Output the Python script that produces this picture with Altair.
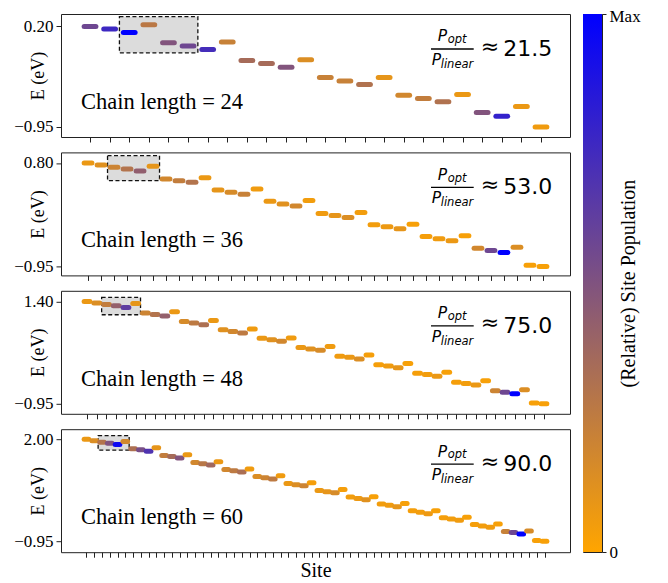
import altair as alt
import pandas as pd

# ---------------- data ----------------
CHAIN_LENGTHS = [24, 36, 48, 60]
RATIOS = ["21.5", "53.0", "75.0", "90.0"]
Y_TOP_TICKS = [0.20, 0.80, 1.40, 2.00]
Y_BOTTOM_TICK = -0.95
Y_DOMAINS = [[-1.065, 0.342], [-1.102, 0.979], [-1.179, 1.645], [-1.267, 2.288]]
BOX_X = [2.5, 6.5]
BOX_Y = [[-0.102, 0.311], [0.501, 0.923], [1.095, 1.492], [1.683, 2.104]]

E_24 = [0.200, 0.170, 0.131, 0.219, 0.013, -0.025, -0.064, 0.021, -0.190, -0.224,
        -0.266, -0.182, -0.385, -0.423, -0.465, -0.385, -0.587, -0.626, -0.663, -0.580,
        -0.786, -0.827, -0.717, -0.950]
POP_24 = [0.57, 0.76, 1.0, 0.27, 0.49, 0.57, 0.73, 0.22, 0.35, 0.35,
          0.49, 0.14, 0.22, 0.22, 0.31, 0.10, 0.18, 0.24, 0.31, 0.08,
          0.49, 0.80, 0.08, 0.06]

E_36 = [0.80, 0.766, 0.726, 0.699, 0.665, 0.743, 0.53, 0.50, 0.473, 0.552,
        0.344, 0.304, 0.27, 0.361, 0.152, 0.108, 0.074, 0.164, -0.056, -0.09,
        -0.123, -0.039, -0.246, -0.28, -0.314, -0.236, -0.444, -0.483, -0.516, -0.432,
        -0.641, -0.68, -0.714, -0.624, -0.93, -0.95]
POP_36 = [0.08, 0.12, 0.20, 0.30, 0.43, 0.10, 0.18, 0.24, 0.30, 0.08,
          0.10, 0.16, 0.22, 0.06, 0.08, 0.12, 0.18, 0.05, 0.06, 0.10,
          0.14, 0.05, 0.05, 0.07, 0.10, 0.03, 0.04, 0.06, 0.08, 0.03,
          0.18, 0.57, 1.0, 0.14, 0.03, 0.03]

E_48 = [1.40, 1.363, 1.331, 1.30, 1.263, 1.354, 1.134, 1.102, 1.065, 1.164,
        0.942, 0.905, 0.866, 0.965, 0.752, 0.713, 0.676, 0.768, 0.553, 0.523,
        0.484, 0.562, 0.346, 0.31, 0.278, 0.369, 0.14, 0.117, 0.08, 0.172,
        -0.05, -0.08, -0.119, -0.027, -0.249, -0.279, -0.318, -0.226, -0.455, -0.485,
        -0.515, -0.423, -0.652, -0.684, -0.72, -0.629, -0.93, -0.95]
POP_48 = [0.08, 0.14, 0.24, 0.42, 0.63, 0.10, 0.20, 0.30, 0.42, 0.08,
          0.16, 0.26, 0.32, 0.08, 0.12, 0.18, 0.26, 0.06, 0.08, 0.12,
          0.18, 0.06, 0.08, 0.12, 0.16, 0.06, 0.06, 0.08, 0.14, 0.04,
          0.04, 0.06, 0.10, 0.03, 0.04, 0.05, 0.08, 0.03, 0.04, 0.05,
          0.08, 0.03, 0.20, 0.57, 1.0, 0.14, 0.03, 0.03]

E_60 = [2.00, 1.951, 1.914, 1.885, 1.845, 1.931, 1.72, 1.692, 1.654, 1.749,
        1.527, 1.499, 1.452, 1.548, 1.326, 1.288, 1.251, 1.346, 1.124, 1.086,
        1.049, 1.135, 0.922, 0.885, 0.847, 0.942, 0.72, 0.683, 0.654, 0.741,
        0.519, 0.481, 0.452, 0.548, 0.329, 0.288, 0.251, 0.337, 0.127, 0.087,
        0.049, 0.144, -0.066, -0.115, -0.153, -0.066, -0.268, -0.305, -0.346, -0.259,
        -0.47, -0.507, -0.548, -0.45, -0.671, -0.70, -0.738, -0.651, -0.93, -0.95]
POP_60 = [0.08, 0.14, 0.30, 0.50, 0.95, 0.18, 0.32, 0.53, 0.69, 0.10,
          0.24, 0.35, 0.49, 0.08, 0.18, 0.28, 0.37, 0.08, 0.18, 0.26,
          0.33, 0.06, 0.14, 0.20, 0.26, 0.06, 0.08, 0.14, 0.20, 0.04,
          0.08, 0.10, 0.16, 0.04, 0.05, 0.07, 0.12, 0.03, 0.05, 0.06,
          0.10, 0.03, 0.04, 0.05, 0.07, 0.03, 0.04, 0.05, 0.06, 0.03,
          0.04, 0.05, 0.06, 0.03, 0.22, 0.57, 1.0, 0.16, 0.03, 0.03]

ENERGIES = [E_24, E_36, E_48, E_60]
POPS = [POP_24, POP_36, POP_48, POP_60]

# ---------------- styling ----------------
W, H = 509, 123
SERIF = "Liberation Serif, Times New Roman, Times, serif"
SANS = "DejaVu Sans"
ORANGE, BLUE = "#ffa500", "#0000ff"
color_scale = alt.Scale(domain=[0, 1], range=[ORANGE, BLUE], interpolate="rgb")


def one_text(s, x, y, size, font, style="normal"):
    return alt.Chart(pd.DataFrame({"t": [s]})).mark_text(
        align="left", baseline="alphabetic", font=font, fontSize=size,
        fontStyle=style, color="black"
    ).encode(text="t:N", x=alt.value(x), y=alt.value(y))


def panel(i, last):
    n = CHAIN_LENGTHS[i]
    span = n - 0.4
    xdom = [0.7 - 0.05 * span, n + 0.3 + 0.05 * span]
    xs = alt.Scale(domain=xdom, nice=False, zero=False)
    ys = alt.Scale(domain=Y_DOMAINS[i], nice=False, zero=False)
    sites = list(range(1, n + 1))
    df = pd.DataFrame({"site": sites, "E": ENERGIES[i], "pop": POPS[i]})
    df["lo"] = df["site"] - 0.3
    df["hi"] = df["site"] + 0.3

    xaxis = alt.Axis(values=sites, labels=False, domain=False, grid=False,
                     tickSize=5, titleFontSize=20, titlePadding=3)
    yaxis = alt.Axis(values=[Y_TOP_TICKS[i], Y_BOTTOM_TICK], format=".2f",
                     domain=False, grid=False, tickSize=5, labelPadding=3,
                     titleAngle=270, titleX=-22.5, titleBaseline="middle",
                     titleAlign="center")
    xtitle = "Site" if last else None

    box = alt.Chart(pd.DataFrame({"x0": [BOX_X[0]], "x1": [BOX_X[1]],
                                  "y0": [BOX_Y[i][0]], "y1": [BOX_Y[i][1]]})).mark_rect(
        fill="#dcdcdc", stroke="#111111", strokeDash=[4, 2.5], strokeWidth=1.3
    ).encode(
        x=alt.X("x0:Q", scale=xs, axis=xaxis, title=xtitle),
        x2="x1:Q",
        y=alt.Y("y0:Q", scale=ys, axis=yaxis, title="E (eV)"),
        y2="y1:Q",
    )

    segs = alt.Chart(df).mark_rule(strokeWidth=5, strokeCap="round").encode(
        x=alt.X("lo:Q", scale=xs, axis=xaxis, title=xtitle),
        x2="hi:Q",
        y=alt.Y("E:Q", scale=ys, axis=yaxis, title="E (eV)"),
        color=alt.Color("pop:Q", scale=color_scale, legend=None),
    )

    bar = alt.Chart(pd.DataFrame({"a": [0]})).mark_rule(color="black", strokeWidth=1.3).encode(
        x=alt.value(370), x2=alt.value(412.7), y=alt.value(35)
    )

    layers = [
        box, segs, bar,
        one_text(f"Chain length = {n}", 20, 95, 22.5, SERIF),
        one_text("P", 376.7, 27.4, 15.5, SANS, "italic"),
        one_text("opt", 386.7, 29.2, 11.5, SANS, "italic"),
        one_text("P", 370.7, 50.7, 15.5, SANS, "italic"),
        one_text("linear", 379.7, 54.0, 11.5, SANS, "italic"),
        one_text("\u2248", 419.7, 39.5, 22, SANS),
        one_text(RATIOS[i], 442.2, 41.7, 22, SANS),
    ]
    return alt.layer(*layers).properties(width=W, height=H)


panels = [panel(i, i == 3) for i in range(4)]
left = alt.vconcat(*panels, spacing=8.4)

CB_H = 538
cb = alt.Chart(pd.DataFrame({"lo": [0.0], "hi": [1.0]})).mark_rect(
    color=alt.LinearGradient(
        gradient="linear",
        stops=[alt.GradientStop(color=BLUE, offset=0), alt.GradientStop(color=ORANGE, offset=1)],
        x1=0, x2=0, y1=0, y2=1,
    )
).encode(
    y=alt.Y("lo:Q", scale=alt.Scale(domain=[0, 1], nice=False, zero=False),
            axis=alt.Axis(orient="right", values=[0, 1],
                          labelExpr="datum.value == 1 ? 'Max' : '0'",
                          labelOffset={"condition": {"test": "datum.value == 1", "value": 2},
                                       "value": 0},
                          domain=False, grid=False, tickSize=4, labelPadding=3,
                          titleAngle=270, titleBaseline="middle", titleAlign="center",
                          titleX=26, titleY=CB_H / 2, titleFontSize=20),
            title="(Relative) Site Population"),
    y2="hi:Q",
    x=alt.value(0),
    x2=alt.value(19),
).properties(width=19, height=CB_H)

chart = alt.hconcat(left, cb, spacing=11).properties(
    padding={"top": -2, "left": 5, "right": 5, "bottom": 2}
).configure_view(
    stroke="#222222", strokeWidth=1
).configure_axis(
    labelFont=SERIF, titleFont=SERIF, labelFontSize=17, titleFontSize=18,
    labelColor="black", titleColor="black", tickColor="#222222",
    titleFontWeight="normal", labelFlush=False
)

chart.save("out.html", embed_options={"renderer": "svg", "actions": False})
